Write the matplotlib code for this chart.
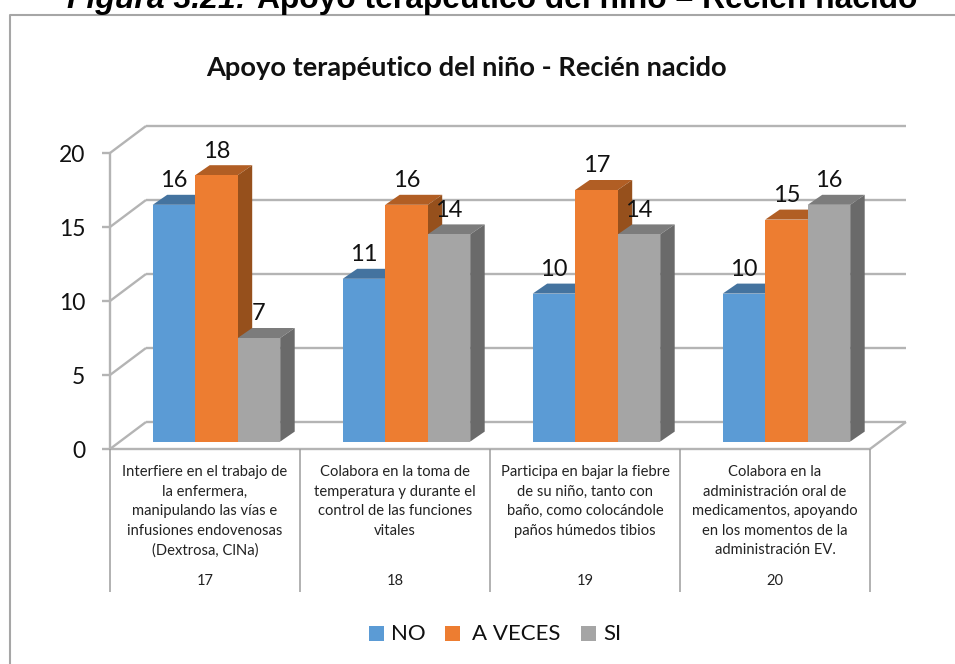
import matplotlib
matplotlib.use("Agg")
import matplotlib.pyplot as plt
from matplotlib.patches import Polygon, Rectangle

W, H = 955, 664

categories = [
    "Interfiere en el trabajo de\nla enfermera,\nmanipulando las vías e\ninfusiones endovenosas\n(Dextrosa, ClNa)",
    "Colabora en la toma de\ntemperatura y durante el\ncontrol de las funciones\nvitales",
    "Participa en bajar la fiebre\nde su niño, tanto con\nbaño, como colocándole\npaños húmedos tibios",
    "Colabora en la\nadministración oral de\nmedicamentos, apoyando\nen los momentos de la\nadministración EV.",
]
item_numbers = ["17", "18", "19", "20"]
series_names = ["NO", "A VECES", "SI"]
no_values = [16, 11, 10, 10]
a_veces_values = [18, 16, 17, 15]
si_values = [7, 14, 14, 16]
y_ticks = [0, 5, 10, 15, 20]

FONT = "Lato"
GRID = "#b4b4b4"
CELL = "#9c9c9c"
series = [no_values, a_veces_values, si_values]
front = ["#5b9bd5", "#ed7d31", "#a5a5a5"]
top = ["#44739f", "#b15e24", "#7c7c7c"]
side = ["#37608a", "#96501c", "#6a6a6a"]

fig = plt.figure(figsize=(W / 100, H / 100), dpi=100, facecolor="white")

# Axes box = front plane of the 3D chart, in pixels
L, R, T, B = 110, 870, 153, 449
ax = fig.add_axes([L / W, 1 - B / H, (R - L) / W, (B - T) / H])
ax.set_xlim(0, 4)
ax.set_ylim(0, 20)
ax.axis("off")

px = 4 / (R - L)        # data units per pixel, x
py = 20 / (B - T)       # data units per pixel, y
wall_dx, wall_dy = 36 * px, 27 * py
base_dx, base_dy = 42.7 * px, 7.4 * py
bar_dx, bar_dy = 14.5 * px, 10 * py
bar_w = 42.5 * px


def line(xs, ys, **kw):
    kw.setdefault("color", GRID)
    kw.setdefault("lw", 1.7)
    ax.plot(xs, ys, clip_on=False, solid_capstyle="butt", zorder=1, **kw)


# Back wall, side wall, floor
for v in y_ticks:
    line([0, wall_dx], [v, v + wall_dy])
    line([wall_dx, 4 + wall_dx], [v + wall_dy, v + wall_dy])
    line([-8 * px, 0], [v, v])
line([0, 0], [0, 20])
line([0, 4], [0, 0])
line([4, 4 + wall_dx], [0, wall_dy])

# Bars
for s, vals in enumerate(series):
    xs = [i + base_dx + (s + 0.5) * bar_w for i in range(4)]
    ax.bar(xs, vals, width=bar_w, bottom=base_dy, color=front[s], zorder=3 + s * 2 + 0.5,
           clip_on=False, label=series_names[s], linewidth=0)
    for x, v in zip(xs, vals):
        y1 = v + base_dy
        y0 = base_dy
        xl, xr = x - bar_w / 2, x + bar_w / 2
        ax.add_patch(Polygon([(xl, y1), (xr, y1), (xr + bar_dx, y1 + bar_dy), (xl + bar_dx, y1 + bar_dy)],
                             closed=True, fc=top[s], ec="none", zorder=3 + s * 2, clip_on=False))
        ax.add_patch(Polygon([(xr, y0), (xr + bar_dx, y0 + bar_dy), (xr + bar_dx, y1 + bar_dy), (xr, y1)],
                             closed=True, fc=side[s], ec="none", zorder=3 + s * 2, clip_on=False))
        ax.text(x, y1 + 17.5 * py, str(v), ha="center", va="baseline", fontsize=17,
                family=FONT, color="#111111", zorder=20, clip_on=False)

# Y tick labels
for v in y_ticks:
    ax.text(-24.5 * px, v - 9.5 * py, str(v), ha="right", va="baseline", fontsize=16.5,
            family=FONT, color="#111111")

# Category table below the axis
for i in range(5):
    line([i, i], [0, -142.5 * py], color=CELL, lw=1.1)
for i, (c, n) in enumerate(zip(categories, item_numbers)):
    ax.text(i + 0.5, -16 * py, c, ha="center", va="top", fontsize=10.6, family=FONT,
            color="#222222", linespacing=1.51)
    ax.text(i + 0.5, -132 * py, n, ha="center", va="center", fontsize=10.6, family=FONT, color="#222222")

# Overlay in pixel coordinates: frame, titles, legend
ov = fig.add_axes([0, 0, 1, 1], facecolor="none")
ov.set_xlim(0, W)
ov.set_ylim(H, 0)
ov.axis("off")
ov.plot([10, 10, W], [H, 14.5, 14.5], color="#a6a6a6", lw=1.5)

ov.text(466, 68, "Apoyo terapéutico del niño - Recién nacido", ha="center", va="center",
        fontsize=19.6, fontweight="bold", family=FONT, color="#111111")

ov.text(67, 8, "Figura 3.21:", ha="left", va="baseline", fontsize=23, fontweight="bold",
        style="italic", family="Liberation Sans", color="black")
ov.text(257, 8, "Apoyo terapéutico del niño – Recién nacido", ha="left", va="baseline", fontsize=22.9,
        fontweight="bold", family="Liberation Sans", color="black")

leg_x = [369, 445, 581]
leg_text_x = [391, 472, 603]
for name, c, x, tx in zip(series_names, front, leg_x, leg_text_x):
    ov.add_patch(Rectangle((x, 626), 15, 15, fc=c, ec="none"))
    ov.text(tx, 634, name, ha="left", va="center", fontsize=16, family=FONT, color="#111111")

fig.savefig("out.png", dpi=100, facecolor="white")
